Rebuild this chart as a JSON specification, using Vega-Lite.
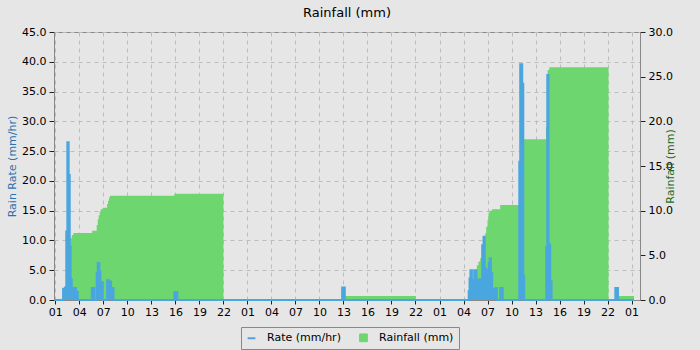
{
  "$schema": "https://vega.github.io/schema/vega-lite/v6.json",
  "width": 586,
  "height": 268,
  "autosize": {"type": "none"},
  "padding": {"left": 54, "top": 32, "right": 60, "bottom": 50},
  "background": "#e6e6e6",
  "title": {"text": "Rainfall (mm)", "fontSize": 13, "fontWeight": "normal", "font": "DejaVu Sans", "color": "#000", "offset": 6, "anchor": "middle"},
  "config": {
    "font": "DejaVu Sans",
    "view": {"stroke": "#888", "strokeWidth": 1},
    "axis": {"labelFont": "DejaVu Sans", "labelFontSize": 11, "labelColor": "#000", "tickColor": "#222", "domainColor": "#888", "gridColor": "#bcbcbc", "gridDash": [4, 4], "titleFont": "DejaVu Sans", "titleFontSize": 11, "titleFontWeight": "normal"}
  },
  "datasets": {
    "rain": [
      {"time": "2024-01-01T00:54:00Z", "rainfall": 0},
      {"time": "2024-01-01T01:58:00Z", "rainfall": 0.1},
      {"time": "2024-01-01T02:13:00Z", "rainfall": 0.3},
      {"time": "2024-01-01T02:22:00Z", "rainfall": 1.5},
      {"time": "2024-01-01T02:30:00Z", "rainfall": 4.0},
      {"time": "2024-01-01T02:40:00Z", "rainfall": 6.2},
      {"time": "2024-01-01T02:48:00Z", "rainfall": 6.9},
      {"time": "2024-01-01T03:03:00Z", "rainfall": 7.28},
      {"time": "2024-01-01T03:15:00Z", "rainfall": 7.5},
      {"time": "2024-01-01T05:36:00Z", "rainfall": 7.76},
      {"time": "2024-01-01T06:10:00Z", "rainfall": 8.4},
      {"time": "2024-01-01T06:18:00Z", "rainfall": 9.03},
      {"time": "2024-01-01T06:25:00Z", "rainfall": 9.5},
      {"time": "2024-01-01T06:33:00Z", "rainfall": 9.9},
      {"time": "2024-01-01T06:40:00Z", "rainfall": 10.15},
      {"time": "2024-01-01T06:55:00Z", "rainfall": 10.33},
      {"time": "2024-01-01T07:28:00Z", "rainfall": 10.75},
      {"time": "2024-01-01T07:35:00Z", "rainfall": 11.1},
      {"time": "2024-01-01T07:43:00Z", "rainfall": 11.5},
      {"time": "2024-01-01T07:50:00Z", "rainfall": 11.68},
      {"time": "2024-01-01T15:52:00Z", "rainfall": 11.9},
      {"time": "2024-01-01T22:00:00Z", "rainfall": 0},
      {"time": "2024-01-02T12:50:00Z", "rainfall": 0.2},
      {"time": "2024-01-02T13:10:00Z", "rainfall": 0.45},
      {"time": "2024-01-02T22:03:00Z", "rainfall": 0},
      {"time": "2024-01-03T04:39:00Z", "rainfall": 0.3},
      {"time": "2024-01-03T04:45:00Z", "rainfall": 0.7},
      {"time": "2024-01-03T04:58:00Z", "rainfall": 1.5},
      {"time": "2024-01-03T05:10:00Z", "rainfall": 2.2},
      {"time": "2024-01-03T05:24:00Z", "rainfall": 3.0},
      {"time": "2024-01-03T05:40:00Z", "rainfall": 3.9},
      {"time": "2024-01-03T05:52:00Z", "rainfall": 4.3},
      {"time": "2024-01-03T06:05:00Z", "rainfall": 4.66},
      {"time": "2024-01-03T06:18:00Z", "rainfall": 5.4},
      {"time": "2024-01-03T06:30:00Z", "rainfall": 6.9},
      {"time": "2024-01-03T06:43:00Z", "rainfall": 7.46},
      {"time": "2024-01-03T06:50:00Z", "rainfall": 8.2},
      {"time": "2024-01-03T07:00:00Z", "rainfall": 8.96},
      {"time": "2024-01-03T07:07:00Z", "rainfall": 9.7},
      {"time": "2024-01-03T07:15:00Z", "rainfall": 10.0},
      {"time": "2024-01-03T07:33:00Z", "rainfall": 10.15},
      {"time": "2024-01-03T08:35:00Z", "rainfall": 10.63},
      {"time": "2024-01-03T11:25:00Z", "rainfall": 18.0},
      {"time": "2024-01-03T14:18:00Z", "rainfall": 19.4},
      {"time": "2024-01-03T14:30:00Z", "rainfall": 25.75},
      {"time": "2024-01-03T14:43:00Z", "rainfall": 26.05},
      {"time": "2024-01-03T22:07:00Z", "rainfall": 0},
      {"time": "2024-01-03T23:20:00Z", "rainfall": 0.45},
      {"time": "2024-01-04T01:18:00Z", "rainfall": 0.45}
    ],
    "rate": [
      {"time": "2024-01-01T00:54:00Z", "rate": 0},
      {"time": "2024-01-01T01:58:00Z", "rate": 1.9},
      {"time": "2024-01-01T02:13:00Z", "rate": 2.1},
      {"time": "2024-01-01T02:22:00Z", "rate": 11.5},
      {"time": "2024-01-01T02:30:00Z", "rate": 26.5},
      {"time": "2024-01-01T02:40:00Z", "rate": 21.0},
      {"time": "2024-01-01T02:48:00Z", "rate": 9.0},
      {"time": "2024-01-01T02:55:00Z", "rate": 3.5},
      {"time": "2024-01-01T03:03:00Z", "rate": 1.2},
      {"time": "2024-01-01T03:15:00Z", "rate": 2.0},
      {"time": "2024-01-01T03:35:00Z", "rate": 1.4},
      {"time": "2024-01-01T03:48:00Z", "rate": 0},
      {"time": "2024-01-01T05:33:00Z", "rate": 2.0},
      {"time": "2024-01-01T05:52:00Z", "rate": 0},
      {"time": "2024-01-01T06:10:00Z", "rate": 4.5},
      {"time": "2024-01-01T06:18:00Z", "rate": 6.2},
      {"time": "2024-01-01T06:30:00Z", "rate": 4.8},
      {"time": "2024-01-01T06:38:00Z", "rate": 3.0},
      {"time": "2024-01-01T06:55:00Z", "rate": 0},
      {"time": "2024-01-01T07:28:00Z", "rate": 3.3},
      {"time": "2024-01-01T07:43:00Z", "rate": 3.1},
      {"time": "2024-01-01T07:58:00Z", "rate": 2.0},
      {"time": "2024-01-01T08:16:00Z", "rate": 0},
      {"time": "2024-01-01T15:52:00Z", "rate": 1.3},
      {"time": "2024-01-01T16:15:00Z", "rate": 0},
      {"time": "2024-01-02T12:50:00Z", "rate": 2.1},
      {"time": "2024-01-02T13:10:00Z", "rate": 0},
      {"time": "2024-01-03T04:39:00Z", "rate": 1.5},
      {"time": "2024-01-03T04:45:00Z", "rate": 3.6},
      {"time": "2024-01-03T04:52:00Z", "rate": 5.0},
      {"time": "2024-01-03T05:03:00Z", "rate": 2.2},
      {"time": "2024-01-03T05:10:00Z", "rate": 3.4},
      {"time": "2024-01-03T05:20:00Z", "rate": 5.0},
      {"time": "2024-01-03T05:37:00Z", "rate": 3.4},
      {"time": "2024-01-03T05:52:00Z", "rate": 1.6},
      {"time": "2024-01-03T06:05:00Z", "rate": 3.5},
      {"time": "2024-01-03T06:13:00Z", "rate": 1.6},
      {"time": "2024-01-03T06:20:00Z", "rate": 9.2},
      {"time": "2024-01-03T06:30:00Z", "rate": 10.6},
      {"time": "2024-01-03T06:39:00Z", "rate": 5.3},
      {"time": "2024-01-03T06:48:00Z", "rate": 1.4},
      {"time": "2024-01-03T07:01:00Z", "rate": 5.0},
      {"time": "2024-01-03T07:09:00Z", "rate": 6.2},
      {"time": "2024-01-03T07:16:00Z", "rate": 7.0},
      {"time": "2024-01-03T07:25:00Z", "rate": 4.5},
      {"time": "2024-01-03T07:35:00Z", "rate": 1.0},
      {"time": "2024-01-03T07:46:00Z", "rate": 1.8},
      {"time": "2024-01-03T08:00:00Z", "rate": 2.0},
      {"time": "2024-01-03T08:10:00Z", "rate": 0},
      {"time": "2024-01-03T08:35:00Z", "rate": 2.0},
      {"time": "2024-01-03T08:54:00Z", "rate": 0},
      {"time": "2024-01-03T10:58:00Z", "rate": 23.2},
      {"time": "2024-01-03T11:05:00Z", "rate": 39.6},
      {"time": "2024-01-03T11:20:00Z", "rate": 36.3},
      {"time": "2024-01-03T11:28:00Z", "rate": 4.0},
      {"time": "2024-01-03T11:35:00Z", "rate": 0},
      {"time": "2024-01-03T14:20:00Z", "rate": 8.9},
      {"time": "2024-01-03T14:28:00Z", "rate": 37.8},
      {"time": "2024-01-03T14:37:00Z", "rate": 9.3},
      {"time": "2024-01-03T14:50:00Z", "rate": 3.1},
      {"time": "2024-01-03T15:00:00Z", "rate": 0},
      {"time": "2024-01-03T22:58:00Z", "rate": 2.0},
      {"time": "2024-01-03T23:18:00Z", "rate": 0},
      {"time": "2024-01-04T01:18:00Z", "rate": 0}
    ]
  },
  "layer": [
    {
      "data": {"name": "rain"},
      "mark": {"type": "area", "interpolate": "step-after"},
      "encoding": {
        "x": {
          "field": "time", "type": "temporal",
          "scale": {"type": "utc", "domain": [1704070200000, 1704333780000]},
          "axis": {
            "title": null,
            "values": [1704070800000,1704081600000,1704092400000,1704103200000,1704114000000,1704124800000,1704135600000,1704146400000,1704157200000,1704168000000,1704178800000,1704189600000,1704200400000,1704211200000,1704222000000,1704232800000,1704243600000,1704254400000,1704265200000,1704276000000,1704286800000,1704297600000,1704308400000,1704319200000,1704330000000],
            "tickCount": 200,
            "format": "%H",
            "labelOverlap": false,
            "labelFlush": false,
            "labelPadding": 2,
            "tickSize": 4,
            "grid": true
          }
        },
        "y": {
          "field": "rainfall", "type": "quantitative",
          "scale": {"domain": [0, 30], "nice": false},
          "axis": {
            "orient": "right",
            "title": "Rainfall (mm)",
            "titleColor": "#1e6b1e",
            "titleAngle": 270,
            "titlePadding": 3,
            "values": [0, 5, 10, 15, 20, 25, 30],
            "tickCount": 100,
            "format": ".1f",
            "labelPadding": 3,
            "tickSize": 5,
            "grid": false
          }
        },
        "color": {
          "datum": "Rainfall (mm)",
          "scale": {"domain": ["Rate (mm/hr)", "Rainfall (mm)"], "range": ["#4aa6de", "#6ed66e"]},
          "legend": {
            "orient": "none",
            "legendX": 187,
            "legendY": 295,
            "direction": "horizontal",
            "title": null,
            "fillColor": "#e6e6e6",
            "strokeColor": "#888",
            "padding": 5,
            "labelFontSize": 11,
            "labelColor": "#000",
            "symbolType": "square",
            "symbolSize": 60,
            "symbolStrokeColor": "#666",
            "symbolStrokeWidth": 1,
            "columnPadding": 16,
            "labelOffset": 10,
            "encode": {
              "symbols": {
                "update": {
                  "shape": {"signal": "datum.value == 'Rate (mm/hr)' ? 'stroke' : 'square'"},
                  "stroke": {"signal": "datum.value == 'Rate (mm/hr)' ? '#4aa6de' : '#666'"},
                  "strokeWidth": {"signal": "datum.value == 'Rate (mm/hr)' ? 2 : 1"}
                }
              }
            }
          }
        }
      }
    },
    {
      "data": {"name": "rate"},
      "encoding": {
        "x": {"field": "time", "type": "temporal"},
        "y": {
          "field": "rate", "type": "quantitative",
          "scale": {"domain": [0, 45], "nice": false},
          "axis": {
            "orient": "left",
            "title": "Rain Rate (mm/hr)",
            "titleColor": "#2a72b0",
            "values": [0, 5, 10, 15, 20, 25, 30, 35, 40, 45],
            "tickCount": 100,
            "format": ".1f",
            "labelPadding": 3,
            "tickSize": 5,
            "grid": true
          }
        },
        "color": {"datum": "Rate (mm/hr)"}
      },
      "layer": [
        {"mark": {"type": "area", "interpolate": "step-after"}},
        {"mark": {"type": "line", "interpolate": "step-after", "strokeWidth": 2}}
      ]
    }
  ],
  "resolve": {"scale": {"y": "independent"}}
}
